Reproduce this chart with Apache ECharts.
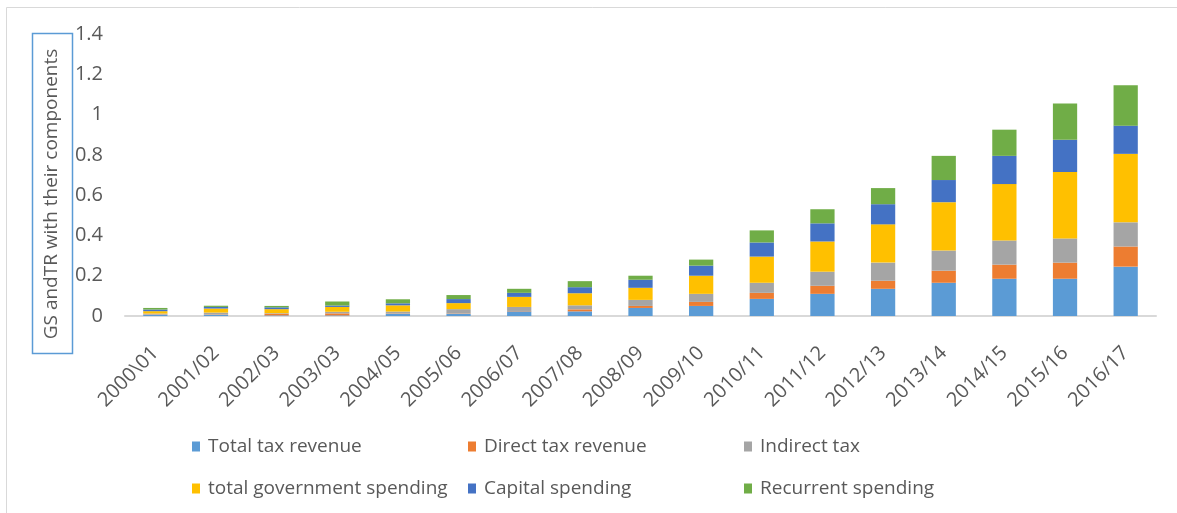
<!DOCTYPE html>
<html>
<head>
<meta charset="utf-8">
<title>GS and TR with their components</title>
<script src="https://cdn.jsdelivr.net/npm/echarts@6/dist/echarts.min.js"></script>
<style>
  html, body { margin: 0; padding: 0; background: #ffffff; }
  #chart { width: 1177px; height: 513px; }
</style>
</head>
<body>
<div id="chart"></div>
<script>
// Fiscal years on the category axis
const years = ['2000\\01', '2001/02', '2002/03', '2003/03', '2004/05', '2005/06', '2006/07', '2007/08', '2008/09',
  '2009/10', '2010/11', '2011/12', '2012/13', '2013/14', '2014/15', '2015/16', '2016/17'];

// Stacked components, bottom to top
const totalTaxRevenue = [0.005, 0.005, 0.003, 0.003, 0.010, 0.010, 0.023, 0.023, 0.040, 0.050, 0.085, 0.110, 0.135, 0.165, 0.185, 0.185, 0.245];
const directTaxRevenue = [0.002, 0.002, 0.008, 0.010, 0.002, 0.002, 0.002, 0.010, 0.010, 0.020, 0.030, 0.040, 0.040, 0.060, 0.070, 0.080, 0.100];
const indirectTax = [0.005, 0.010, 0.003, 0.008, 0.010, 0.022, 0.020, 0.020, 0.030, 0.040, 0.050, 0.070, 0.090, 0.100, 0.120, 0.120, 0.120];
const totalGovSpending = [0.012, 0.020, 0.020, 0.024, 0.031, 0.030, 0.050, 0.060, 0.060, 0.090, 0.130, 0.150, 0.190, 0.240, 0.280, 0.330, 0.340];
const capitalSpending = [0.008, 0.008, 0.009, 0.007, 0.010, 0.020, 0.020, 0.030, 0.040, 0.050, 0.070, 0.090, 0.100, 0.110, 0.140, 0.160, 0.140];
const recurrentSpending = [0.008, 0.006, 0.007, 0.020, 0.020, 0.020, 0.020, 0.030, 0.020, 0.030, 0.060, 0.070, 0.080, 0.120, 0.130, 0.180, 0.200];

// Value axis ticks
const yMin = 0, yMax = 1.4, yStep = 0.2;

const seriesNames = ['Total tax revenue', 'Direct tax revenue', 'Indirect tax',
  'total government spending', 'Capital spending', 'Recurrent spending'];
const seriesData = [totalTaxRevenue, directTaxRevenue, indirectTax, totalGovSpending, capitalSpending, recurrentSpending];
const colors = ['#5B9BD5', '#ED7D31', '#A5A5A5', '#FFC000', '#4472C4', '#70AD47'];

const FONT = '"Open Sans", "Noto Sans", sans-serif';
const TEXT = '#595959';

const chart = echarts.init(document.getElementById('chart'), null, { renderer: 'canvas' });

function legendColumn(names, left) {
  return {
    show: true,
    orient: 'vertical',
    left: left,
    top: 432,
    itemWidth: 8,
    itemHeight: 10,
    itemGap: 23,
    icon: 'rect',
    data: names,
    textStyle: { color: TEXT, fontFamily: FONT, fontSize: 19, padding: [0, 0, 0, 3] }
  };
}

const option = {
  backgroundColor: '#ffffff',
  animation: false,
  color: colors,
  grid: { left: 125, right: 21, top: 34, bottom: 197, containLabel: false },
  legend: [
    legendColumn([seriesNames[0], seriesNames[3]], 187),
    legendColumn([seriesNames[1], seriesNames[4]], 463),
    legendColumn([seriesNames[2], seriesNames[5]], 739)
  ],
  xAxis: {
    type: 'category',
    data: years,
    boundaryGap: true,
    axisLine: { show: true, lineStyle: { color: '#D9D9D9', width: 2 } },
    axisTick: { show: false },
    axisLabel: {
      rotate: 45,
      interval: 0,
      margin: 34,
      color: TEXT,
      fontFamily: FONT,
      fontSize: 20
    },
    splitLine: { show: false }
  },
  yAxis: {
    type: 'value',
    min: yMin,
    max: yMax,
    interval: yStep,
    axisLine: { show: false },
    axisTick: { show: false },
    splitLine: { show: false },
    axisLabel: {
      margin: 22,
      color: TEXT,
      fontFamily: FONT,
      fontSize: 20,
      formatter: v => String(Math.round(v * 10) / 10)
    }
  },
  series: seriesNames.map((name, i) => ({
    name: name,
    type: 'bar',
    stack: 'total',
    barWidth: '40%',
    data: seriesData[i],
    itemStyle: { color: colors[i] }
  })),
  graphic: [
    // outer chart frame
    {
      type: 'rect', silent: true, z: -1,
      shape: { x: 6.5, y: 7.5, width: 1200, height: 600 },
      style: { fill: 'none', stroke: '#D9D9D9', lineWidth: 1 }
    },
    // boxed axis title
    {
      type: 'rect', silent: true,
      shape: { x: 32.5, y: 33.5, width: 40, height: 320 },
      style: { fill: 'none', stroke: '#5B9BD5', lineWidth: 1.5 }
    },
    {
      type: 'text', silent: true,
      x: 52, y: 194, rotation: Math.PI / 2,
      style: {
        text: 'GS andTR with their components',
        fill: TEXT,
        font: '19px ' + FONT,
        align: 'center',
        verticalAlign: 'middle'
      }
    }
  ]
};

chart.setOption(option);
</script>
</body>
</html>
